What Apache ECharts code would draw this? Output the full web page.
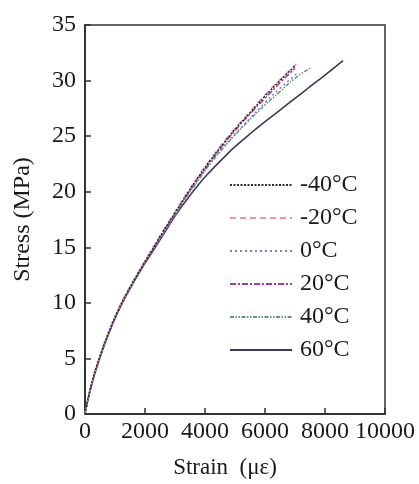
<!DOCTYPE html>
<html>
<head>
<meta charset="utf-8">
<script src="https://cdn.jsdelivr.net/npm/echarts@6/dist/echarts.min.js"></script>
<style>
  html, body { margin: 0; padding: 0; background: #fff; }
  #chart { width: 419px; height: 484px; }
</style>
</head>
<body>
<div id="chart"></div>
<script>
    'use strict'

    /* Chart data (strain in micro-strain, stress in MPa) */
    var names = ['-40°C', '-20°C', '0°C', '20°C', '40°C', '60°C'];
    var xTicks = [0, 2000, 4000, 6000, 8000, 10000];
    var yTicks = [0, 5, 10, 15, 20, 25, 30, 35];

    var m40 = [[0, 0], [200, 2.5], [500, 5.2], [800, 7.4], [1100, 9.3], [1400, 10.9], [1800, 12.8], [2200, 14.6], [2600, 16.4], [3000, 18.1], [3400, 19.8], [3800, 21.4], [4200, 22.9], [4600, 24.3], [5000, 25.6], [5500, 27.1], [6000, 28.6], [6500, 30.0], [7000, 31.3]];
    var m20 = [[0, 0], [200, 2.6], [500, 5.3], [800, 7.5], [1100, 9.4], [1400, 11.0], [1800, 12.9], [2200, 14.7], [2600, 16.5], [3000, 18.2], [3400, 19.9], [3800, 21.5], [4200, 23.0], [4600, 24.4], [5000, 25.7], [5500, 27.2], [6000, 28.7], [6500, 30.1], [7050, 31.5]];
    var p0 = [[0, 0], [200, 2.5], [500, 5.2], [800, 7.4], [1100, 9.3], [1400, 10.9], [1800, 12.8], [2200, 14.6], [2600, 16.3], [3000, 18.0], [3400, 19.7], [3800, 21.2], [4200, 22.7], [4600, 24.0], [5000, 25.2], [5500, 26.6], [6000, 28.0], [6500, 29.3], [7100, 30.7]];
    var p20 = [[0, 0], [200, 2.5], [500, 5.1], [800, 7.3], [1100, 9.2], [1400, 10.8], [1800, 12.7], [2200, 14.5], [2600, 16.3], [3000, 18.0], [3400, 19.7], [3800, 21.3], [4200, 22.8], [4600, 24.2], [5000, 25.5], [5500, 27.0], [6000, 28.4], [6500, 29.8], [7000, 31.1]];
    var p40 = [[0, 0], [200, 2.4], [500, 5.1], [800, 7.3], [1100, 9.2], [1400, 10.8], [1800, 12.7], [2200, 14.5], [2600, 16.2], [3000, 17.9], [3400, 19.6], [3800, 21.1], [4200, 22.6], [4600, 23.9], [5000, 25.1], [5500, 26.5], [6000, 27.8], [6500, 29.0], [7000, 30.2], [7550, 31.2]];
    var p60 = [[0, 0], [200, 2.4], [500, 5.1], [800, 7.3], [1100, 9.2], [1400, 10.8], [1800, 12.7], [2200, 14.4], [2600, 16.1], [3000, 17.8], [3400, 19.3], [3800, 20.7], [4200, 21.9], [4600, 23.0], [5000, 24.05], [5500, 25.2], [6000, 26.3], [6500, 27.35], [7000, 28.4], [7500, 29.45], [8000, 30.5], [8600, 31.8]];

    var curves = [m40, m20, p0, p20, p40, p60];
    var colors = ['#2b2b33', '#e59aa6', '#7b7fb3', '#9b3fa8', '#5f9a6e', '#3b3a5c'];
    var dashes = [[2, 1.5], [6, 4], [2, 3], [6, 2, 2, 2], [4, 1.5, 1.5, 1.5, 1.5, 1.5], 'solid'];

    var font = 'Liberation Serif';

    var series = names.map(function (n, i) {
        return {
            name: n,
            type: 'line',
            smooth: true,
            symbol: 'none',
            data: curves[i],
            lineStyle: { width: i === 5 ? 1.6 : 1.5, color: colors[i], type: dashes[i] },
            itemStyle: { color: colors[i] },
            z: 10 - i
        };
    });

    var chart = echarts.init(document.getElementById('chart'));

    chart.setOption({
        animation: false,
        textStyle: { fontFamily: font },
        grid: {
            left: 85,
            right: 34,
            top: 25,
            bottom: 69,
            show: true,
            borderColor: '#333',
            borderWidth: 1.5
        },
        legend: {
            orient: 'vertical',
            left: 224,
            top: 168,
            itemWidth: 62,
            itemHeight: 14,
            itemGap: 9,
            data: names,
            itemStyle: { opacity: 0 },
            textStyle: { fontSize: 24, color: '#1a1a1a', fontFamily: font, padding: [0, 0, 0, 3] }
        },
        xAxis: {
            type: 'value',
            min: 0,
            max: 10000,
            interval: 2000,
            name: 'Strain  (με)',
            nameLocation: 'middle',
            nameGap: 42,
            nameTextStyle: { fontSize: 23, color: '#1a1a1a', fontFamily: font, padding: [0, 20, 0, 0] },
            axisLine: { onZero: false, lineStyle: { color: '#333', width: 2 } },
            axisTick: { inside: true, length: 6, lineStyle: { color: '#333', width: 1.5 } },
            axisLabel: {
                fontSize: 24,
                fontFamily: font,
                color: '#1a1a1a',
                margin: 6,
                formatter: function (v) { return xTicks.indexOf(v) >= 0 ? String(v) : ''; }
            },
            splitLine: { show: false }
        },
        yAxis: {
            type: 'value',
            min: 0,
            max: 35,
            interval: 5,
            name: 'Stress (MPa)',
            nameLocation: 'middle',
            nameGap: 50,
            nameTextStyle: { fontSize: 24, color: '#1a1a1a', fontFamily: font },
            axisLine: { onZero: false, lineStyle: { color: '#333', width: 2 } },
            axisTick: { inside: true, length: 6, lineStyle: { color: '#333', width: 1.5 } },
            axisLabel: {
                fontSize: 24,
                fontFamily: font,
                color: '#1a1a1a',
                margin: 9,
                formatter: function (v) { return yTicks.indexOf(v) >= 0 ? String(v) : ''; }
            },
            splitLine: { show: false }
        },
        series: series
    });
</script>
</body>
</html>
